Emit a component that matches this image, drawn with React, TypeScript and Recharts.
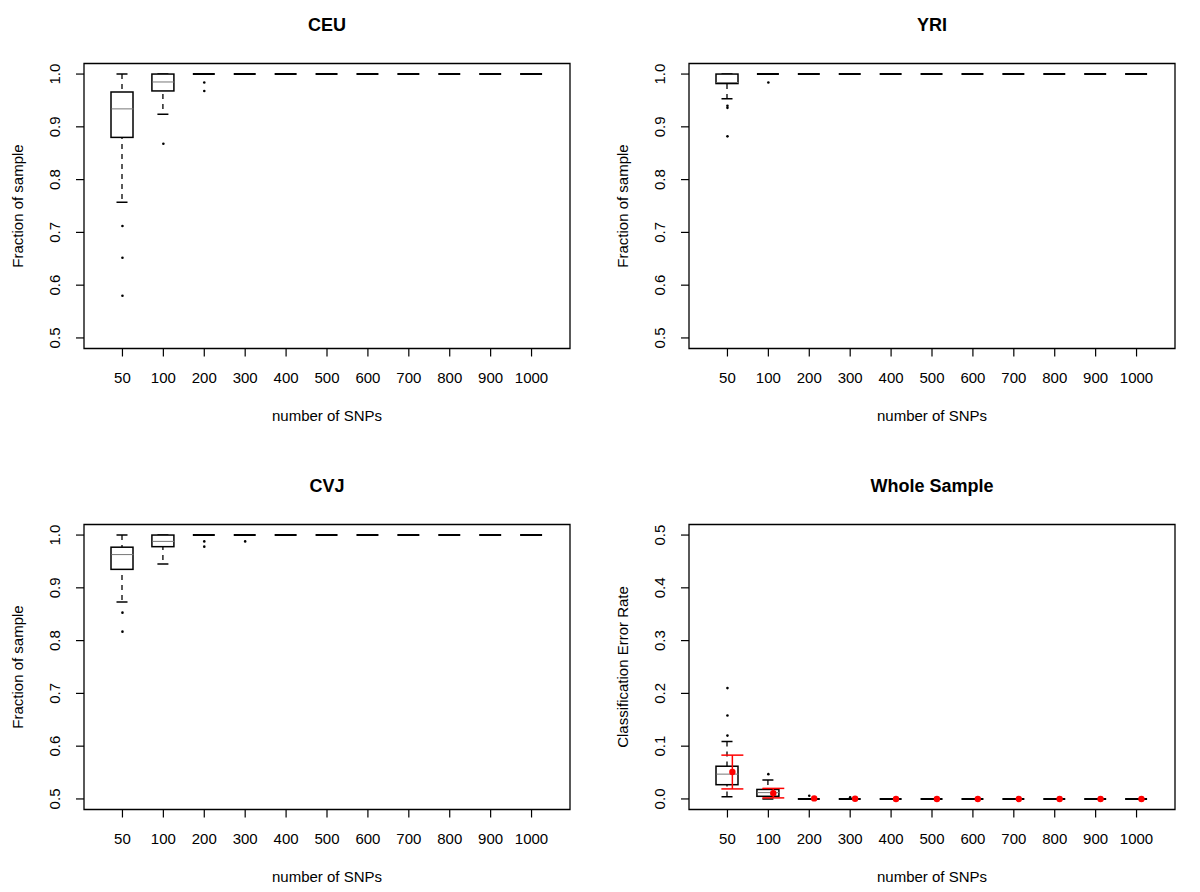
import React from "react"
import { ComposedChart, Bar, Scatter, XAxis, YAxis, ErrorBar, ReferenceArea } from "recharts"

// ── Categories ──
const SNP_LABELS = ["50", "100", "200", "300", "400", "500", "600", "700", "800", "900", "1000"]

// ── CEU ──
const ceuLow = [0.757, 0.924, 1, 1, 1, 1, 1, 1, 1, 1, 1]
const ceuQ1 = [0.88, 0.968, 1, 1, 1, 1, 1, 1, 1, 1, 1]
const ceuMed = [0.934, 0.985, 1, 1, 1, 1, 1, 1, 1, 1, 1]
const ceuQ3 = [0.966, 1, 1, 1, 1, 1, 1, 1, 1, 1, 1]
const ceuHigh = [1, 1, 1, 1, 1, 1, 1, 1, 1, 1, 1]
const ceuOutliers: [string, number][] = [["50", 0.712], ["50", 0.652], ["50", 0.58], ["100", 0.868], ["200", 0.984], ["200", 0.968]]

// ── YRI ──
const yriLow = [0.953, 1, 1, 1, 1, 1, 1, 1, 1, 1, 1]
const yriQ1 = [0.982, 1, 1, 1, 1, 1, 1, 1, 1, 1, 1]
const yriMed = [0.984, 1, 1, 1, 1, 1, 1, 1, 1, 1, 1]
const yriQ3 = [1, 1, 1, 1, 1, 1, 1, 1, 1, 1, 1]
const yriHigh = [1, 1, 1, 1, 1, 1, 1, 1, 1, 1, 1]
const yriOutliers: [string, number][] = [["50", 0.94], ["50", 0.936], ["50", 0.882], ["100", 0.984]]

// ── CVJ ──
const cvjLow = [0.873, 0.945, 1, 1, 1, 1, 1, 1, 1, 1, 1]
const cvjQ1 = [0.935, 0.978, 1, 1, 1, 1, 1, 1, 1, 1, 1]
const cvjMed = [0.963, 0.988, 1, 1, 1, 1, 1, 1, 1, 1, 1]
const cvjQ3 = [0.977, 1, 1, 1, 1, 1, 1, 1, 1, 1, 1]
const cvjHigh = [1, 1, 1, 1, 1, 1, 1, 1, 1, 1, 1]
const cvjOutliers: [string, number][] = [["50", 0.853], ["50", 0.817], ["200", 0.988], ["200", 0.978], ["300", 0.988]]

// ── Whole sample (error rate) ──
const allLow = [0.004, 0, 0, 0, 0, 0, 0, 0, 0, 0, 0]
const allQ1 = [0.027, 0.005, 0, 0, 0, 0, 0, 0, 0, 0, 0]
const allMed = [0.047, 0.012, 0, 0, 0, 0, 0, 0, 0, 0, 0]
const allQ3 = [0.062, 0.018, 0, 0, 0, 0, 0, 0, 0, 0, 0]
const allHigh = [0.109, 0.036, 0, 0, 0, 0, 0, 0, 0, 0, 0]
const allOutliers: [string, number][] = [["50", 0.21], ["50", 0.158], ["50", 0.12], ["100", 0.047], ["200", 0.006], ["300", 0.003]]
const allMean = [0.051, 0.011, 0.001, 0.0005, 0, 0, 0, 0, 0, 0, 0]
const allMeanLo = [0.019, 0.002, 0.001, 0.0005, 0, 0, 0, 0, 0, 0, 0]
const allMeanHi = [0.083, 0.02, 0.001, 0.0005, 0, 0, 0, 0, 0, 0, 0]

const FRACTION_TICKS = [0.5, 0.6, 0.7, 0.8, 0.9, 1.0]
const ERROR_TICKS = [0, 0.1, 0.2, 0.3, 0.4, 0.5]

const X_DOMAIN = [0.06, 11.94]
const X_TICKS = SNP_LABELS.map((_, i) => i + 1)
const MEAN_SHIFT = 0.12
const FONT = "'Liberation Sans', Arial, Helvetica, sans-serif"

type Stats = { low: number[]; q1: number[]; med: number[]; q3: number[]; high: number[] }
type Mean = { pos: number; v: number; err: number[] }

const buildRows = (s: Stats) =>
  SNP_LABELS.map((label, i) => ({
    pos: i + 1,
    label,
    whisker: [s.low[i], s.high[i]],
    box: [s.q1[i], s.q3[i]],
  }))

const buildMedians = (s: Stats) =>
  SNP_LABELS.map((_, i) => ({ pos: i + 1, v: s.med[i], flat: s.q3[i] === s.q1[i] })).filter((d) => !d.flat)

const buildOutliers = (list: [string, number][]) =>
  list.map(([label, v]) => ({ pos: SNP_LABELS.indexOf(label) + 1, v }))

// ── Shapes ──
const WhiskerShape = (props: any) => {
  const { x, y, width, height } = props
  if (!height) return null
  const top = Math.min(y, y + height)
  const bottom = Math.max(y, y + height)
  const cx = x + width / 2
  const hw = width / 4
  return (
    <g>
      <line x1={cx} x2={cx} y1={top} y2={bottom} stroke="#000" strokeWidth={1.3} strokeDasharray="5 5" />
      <line x1={cx - hw} x2={cx + hw} y1={top} y2={top} stroke="#000" strokeWidth={1.5} />
      <line x1={cx - hw} x2={cx + hw} y1={bottom} y2={bottom} stroke="#000" strokeWidth={1.5} />
    </g>
  )
}

const BoxShape = (props: any) => {
  const { x, y, width, height } = props
  const top = Math.min(y, y + height)
  const h = Math.abs(height || 0)
  if (h < 0.5) {
    return <line x1={x} x2={x + width} y1={top} y2={top} stroke="#000" strokeWidth={2} />
  }
  return <rect x={x} y={top} width={width} height={h} fill="#fff" stroke="#000" strokeWidth={1.5} />
}

const MedianShape = (props: any) => (
  <line x1={props.cx - 11} x2={props.cx + 11} y1={props.cy} y2={props.cy} stroke="#777" strokeWidth={1} />
)

const DotShape = (props: any) => <circle cx={props.cx} cy={props.cy} r={1.3} fill="#000" />

const MeanShape = (props: any) => <circle cx={props.cx} cy={props.cy} r={3.2} fill="#f00" />

const YTick = (props: any) => {
  const { x, y, payload } = props
  const tx = x - 21
  return (
    <text x={tx} y={y} transform={`rotate(-90, ${tx}, ${y})`} textAnchor="middle" dominantBaseline="central" fontSize={15} fill="#000">
      {Number(payload.value).toFixed(1)}
    </text>
  )
}

// ── Panel ──
function BoxPanel({ title, yLabel, stats, outliers, yDomain, yTicks, means, left, top }: {
  title: string
  yLabel: string
  stats: Stats
  outliers: [string, number][]
  yDomain: number[]
  yTicks: number[]
  means?: Mean[]
  left: number
  top: number
}) {
  const rows = buildRows(stats)
  const medians = buildMedians(stats)
  const dots = buildOutliers(outliers)
  const meansWithBars = means ? means.filter((m) => m.err[0] > 0.0015 || m.err[1] > 0.0015) : []
  return (
    <div style={{ position: "absolute", left, top, width: 600, height: 446 }}>
      <div style={{ position: "absolute", left: 84, top: 16, width: 486, textAlign: "center", fontSize: 18, lineHeight: "18px", fontWeight: "bold" }}>
        {title}
      </div>
      <ComposedChart width={600} height={446} data={rows} margin={{ top: 63.5, right: 30, bottom: 25, left: 10 }}>
        <XAxis
          xAxisId="main"
          type="number"
          dataKey="pos"
          domain={X_DOMAIN}
          allowDataOverflow
          ticks={X_TICKS}
          interval={0}
          tickFormatter={(v: number) => SNP_LABELS[v - 1]}
          tick={{ fontSize: 15, fill: "#000" }}
          tickLine={{ stroke: "#000", strokeWidth: 1.2 }}
          tickSize={8}
          tickMargin={16}
          axisLine={false}
          height={72.5}
          label={{ value: "number of SNPs", position: "insideBottom", offset: 0, style: { fontSize: 15, fill: "#000" } }}
        />
        <XAxis xAxisId="w" type="number" dataKey="pos" domain={X_DOMAIN} allowDataOverflow ticks={X_TICKS} hide height={0} />
        <XAxis xAxisId="m" type="number" dataKey="pos" domain={X_DOMAIN} allowDataOverflow ticks={X_TICKS} hide height={0} />
        <YAxis
          type="number"
          domain={yDomain}
          allowDataOverflow
          ticks={yTicks}
          interval={0}
          tick={<YTick />}
          tickLine={{ stroke: "#000", strokeWidth: 1.2 }}
          tickSize={8}
          tickMargin={0}
          axisLine={false}
          width={74}
          label={{ value: yLabel, angle: -90, position: "insideLeft", offset: 8, style: { textAnchor: "middle", fontSize: 15, fill: "#000" } }}
        />
        <ReferenceArea xAxisId="main" x1={X_DOMAIN[0]} x2={X_DOMAIN[1]} y1={yDomain[0]} y2={yDomain[1]} fill="none" stroke="#000" strokeWidth={1.3} fillOpacity={0} />
        <Bar xAxisId="w" dataKey="whisker" barSize={22} shape={<WhiskerShape />} isAnimationActive={false} />
        <Bar xAxisId="main" dataKey="box" barSize={22} shape={<BoxShape />} isAnimationActive={false} />
        <Scatter xAxisId="main" data={medians} dataKey="v" shape={<MedianShape />} isAnimationActive={false} />
        <Scatter xAxisId="main" data={dots} dataKey="v" shape={<DotShape />} isAnimationActive={false} />
        {means && (
          <Scatter xAxisId="m" data={meansWithBars} dataKey="v" shape={() => null} isAnimationActive={false}>
            <ErrorBar dataKey="err" direction="y" width={11} stroke="#f00" strokeWidth={1.5} />
          </Scatter>
        )}
        {means && <Scatter xAxisId="m" data={means} dataKey="v" shape={<MeanShape />} isAnimationActive={false} />}
      </ComposedChart>
    </div>
  )
}

export default function App() {
  const ceu = { low: ceuLow, q1: ceuQ1, med: ceuMed, q3: ceuQ3, high: ceuHigh }
  const yri = { low: yriLow, q1: yriQ1, med: yriMed, q3: yriQ3, high: yriHigh }
  const cvj = { low: cvjLow, q1: cvjQ1, med: cvjMed, q3: cvjQ3, high: cvjHigh }
  const all = { low: allLow, q1: allQ1, med: allMed, q3: allQ3, high: allHigh }
  const means: Mean[] = allMean.map((m, i) => ({ pos: i + 1 + MEAN_SHIFT, v: m, err: [m - allMeanLo[i], allMeanHi[i] - m] }))

  return (
    <div style={{ position: "absolute", left: 0, top: 0, width: 1200, height: 892, background: "#fff", fontFamily: FONT, color: "#000" }}>
      <BoxPanel title="CEU" yLabel="Fraction of sample" stats={ceu} outliers={ceuOutliers} yDomain={[0.48, 1.02]} yTicks={FRACTION_TICKS} left={0} top={0} />
      <BoxPanel title="YRI" yLabel="Fraction of sample" stats={yri} outliers={yriOutliers} yDomain={[0.48, 1.02]} yTicks={FRACTION_TICKS} left={605} top={0} />
      <BoxPanel title="CVJ" yLabel="Fraction of sample" stats={cvj} outliers={cvjOutliers} yDomain={[0.48, 1.02]} yTicks={FRACTION_TICKS} left={0} top={461} />
      <BoxPanel title="Whole Sample" yLabel="Classification Error Rate" stats={all} outliers={allOutliers} yDomain={[-0.02, 0.52]} yTicks={ERROR_TICKS} means={means} left={605} top={461} />
    </div>
  )
}
